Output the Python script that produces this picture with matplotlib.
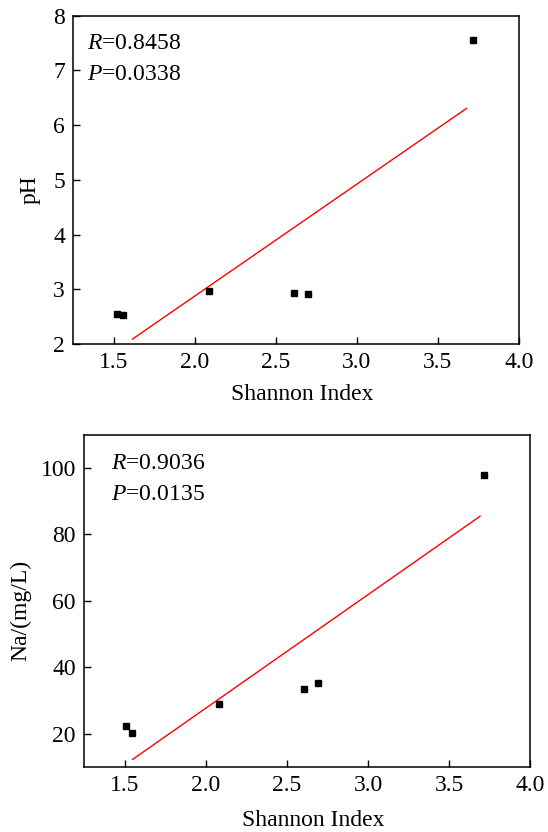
import numpy as np
import matplotlib
matplotlib.use("Agg")
import matplotlib.pyplot as plt

plt.rcParams["font.family"] = ["Liberation Serif", "DejaVu Serif"]
plt.rcParams["mathtext.fontset"] = "custom"
plt.rcParams["mathtext.rm"] = "Liberation Serif"
plt.rcParams["mathtext.it"] = "Liberation Serif:italic"

# Shannon index vs pH
shannon_ph = [1.52, 1.556, 2.087, 2.61, 2.70, 3.715]
ph = [2.54, 2.53, 2.96, 2.925, 2.91, 7.545]
ph_fit_x = [1.615, 3.678]
ph_fit_y = [2.09, 6.305]
ph_stats = ("0.8458", "0.0338")

# Shannon index vs Na
shannon_na = [1.51, 1.546, 2.078, 2.604, 2.693, 3.715]
na = [22.3, 20.3, 29.0, 33.3, 35.3, 98.0]
na_fit_x = [1.548, 3.69]
na_fit_y = [12.2, 85.5]
na_stats = ("0.9036", "0.0135")

xticks = [1.5, 2.0, 2.5, 3.0, 3.5, 4.0]
FS = 17

fig = plt.figure(figsize=(5.48, 8.32), dpi=100)
ax1 = fig.add_axes([0.1338, 0.5865, 0.8128, 0.3948])
ax2 = fig.add_axes([0.1538, 0.0785, 0.8139, 0.3987])


def style(ax, yticks, ylim, ylabel, ylab_x, xlab_xy):
    ax.set_xlim(1.25, 4.0)
    ax.set_ylim(*ylim)
    ax.set_xticks(xticks)
    ax.set_xticklabels([f"{v:.1f}" for v in xticks])
    ax.set_yticks(yticks)
    ax.tick_params(direction="in", length=5, width=1, labelsize=FS, pad=6,
                   top=False, right=False)
    for sp in ax.spines.values():
        sp.set_linewidth(1.1)
    ax.set_ylabel(ylabel, fontsize=FS, va="center")
    ax.yaxis.set_label_coords(ylab_x, 0.47)
    ax.set_xlabel("Shannon Index", fontsize=FS, va="center")
    ax.xaxis.set_label_coords(*xlab_xy)


def annotate(ax, stats, x):
    ax.text(x, 0.914, f"$R$={stats[0]}", transform=ax.transAxes,
            fontsize=FS, va="center", ha="left")
    ax.text(x, 0.82, f"$P$={stats[1]}", transform=ax.transAxes,
            fontsize=FS, va="center", ha="left")


ax1.plot(ph_fit_x, ph_fit_y, color="red", lw=1.0)
ax1.plot(shannon_ph, ph, "s", color="black", ms=5, ls="none")
style(ax1, range(2, 9), (2, 8), "pH", -0.097, (0.515, -0.155))
annotate(ax1, ph_stats, 0.03)

ax2.plot(na_fit_x, na_fit_y, color="red", lw=1.0)
ax2.plot(shannon_na, na, "s", color="black", ms=5, ls="none")
style(ax2, range(20, 101, 20), (10, 110), "Na/(mg/L)", -0.143, (0.513, -0.163))
annotate(ax2, na_stats, 0.06)

fig.savefig("out.png", dpi=100)
